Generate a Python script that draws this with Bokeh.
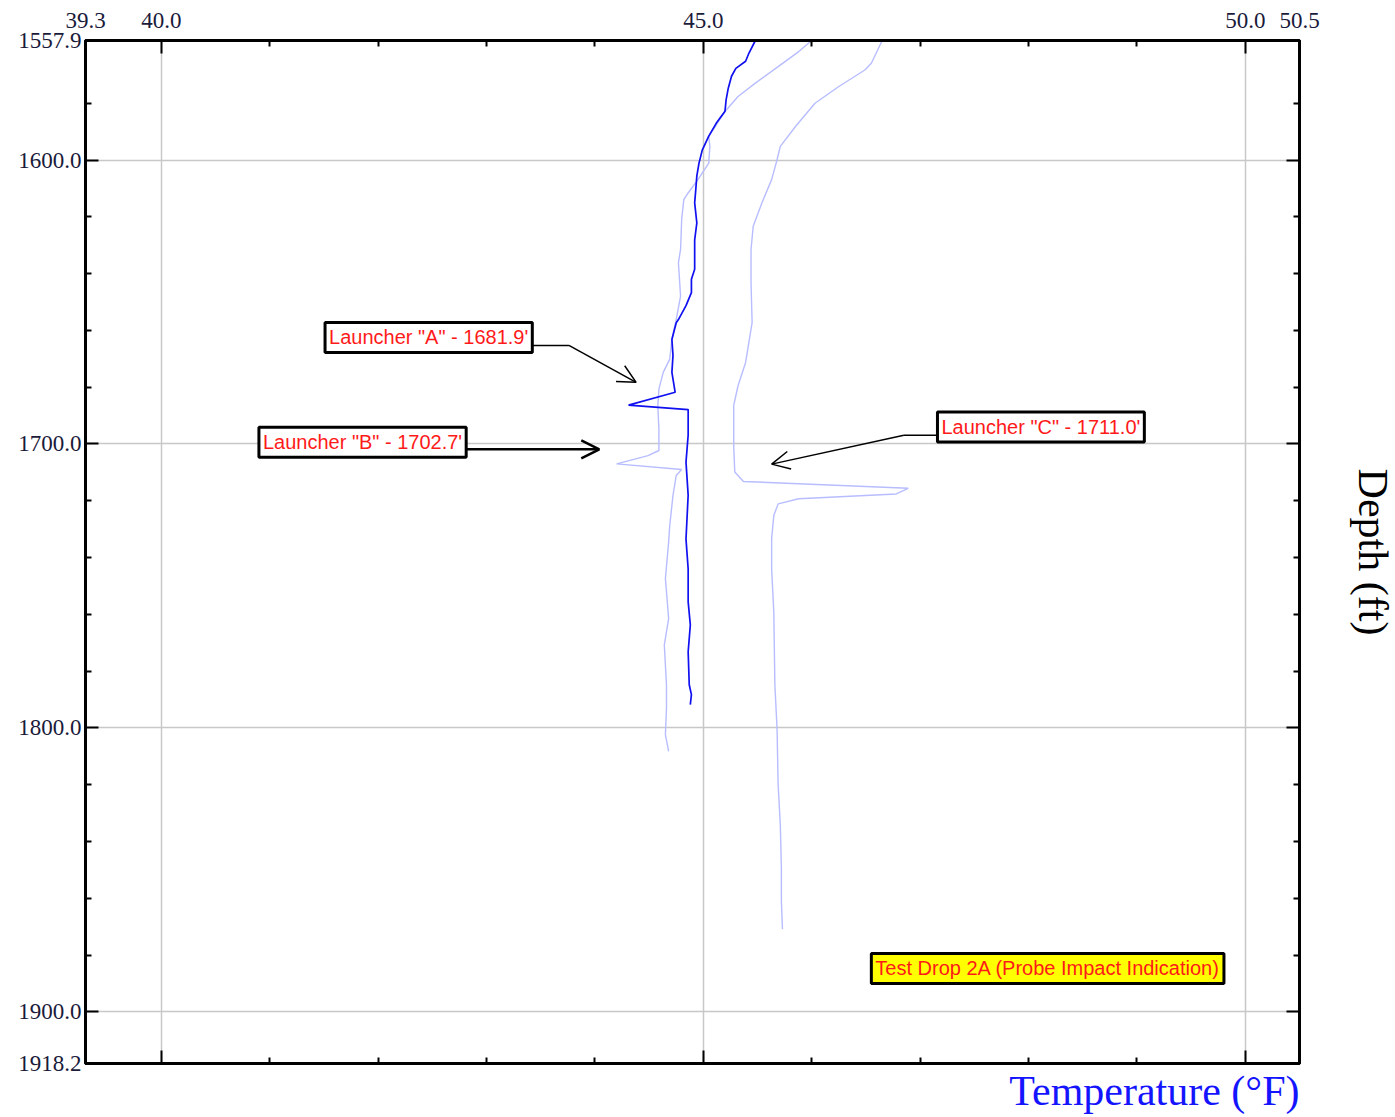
from bokeh.plotting import figure
from bokeh.models import (Range1d, LinearAxis, FixedTicker, PrintfTickFormatter,
                          CustomJSTickFormatter, Label, Arrow, OpenHead, Title)
from bokeh.embed import file_html
from bokeh.resources import INLINE

# ---------------- data ----------------
# Launcher "A" profile (dark blue)
temp_a = [45.48, 45.42, 45.39, 45.30, 45.26, 45.23, 45.21, 45.20, 45.12, 45.05,
          44.99, 44.96, 44.94, 44.93, 44.92, 44.94, 44.92, 44.92, 44.89, 44.89,
          44.84, 44.77, 44.75, 44.71, 44.72, 44.71, 44.74, 44.31, 44.86, 44.86,
          44.84, 44.86, 44.84, 44.86, 44.86, 44.88, 44.86, 44.87, 44.89, 44.88]
depth_a = [1557.9, 1562.4, 1565.2, 1567.7, 1570.5, 1574.7, 1578.8, 1582.8, 1587.0, 1591.6,
           1596.5, 1601.1, 1605.6, 1610.5, 1615.1, 1622.1, 1628.1, 1638.5, 1642.0, 1646.7,
           1651.3, 1656.2, 1657.3, 1663.2, 1668.8, 1674.8, 1681.8, 1686.3, 1687.9, 1696.9,
           1706.4, 1718.0, 1733.5, 1744.0, 1755.6, 1763.7, 1773.2, 1784.8, 1788.3, 1791.8]

# Launcher "B" profile (light blue)
temp_b = [46.00, 45.88, 45.69, 45.48, 45.32, 45.20, 45.11, 45.05, 45.06, 45.05,
          44.95, 44.86, 44.82, 44.80, 44.79, 44.77, 44.79, 44.75, 44.71, 44.69,
          44.63, 44.59, 44.58, 44.59, 44.59, 44.49, 44.20, 44.80, 44.75, 44.72,
          44.69, 44.68, 44.65, 44.68, 44.64, 44.66, 44.66, 44.65, 44.68]
depth_b = [1557.9, 1561.8, 1567.1, 1572.9, 1577.6, 1582.9, 1588.2, 1591.7, 1595.2, 1601.1,
           1606.9, 1611.6, 1613.9, 1621.0, 1631.5, 1636.2, 1647.9, 1656.1, 1663.1, 1670.1,
           1674.8, 1680.7, 1686.5, 1694.7, 1702.3, 1704.1, 1707.0, 1709.0, 1711.1, 1718.1,
           1728.7, 1734.5, 1747.4, 1761.5, 1770.8, 1784.9, 1793.1, 1802.4, 1808.3]

# Launcher "C" profile (light blue)
temp_c = [46.65, 46.55, 46.49, 46.25, 46.03, 45.85, 45.71, 45.68, 45.63, 45.54,
          45.46, 45.44, 45.44, 45.45, 45.39, 45.32, 45.28, 45.28, 45.29, 45.37,
          46.89, 46.78, 45.88, 45.69, 45.65, 45.63, 45.63, 45.65, 45.66, 45.68,
          45.69, 45.71, 45.72, 45.72, 45.73]
depth_c = [1557.9, 1565.9, 1568.3, 1574.1, 1580.0, 1588.2, 1595.2, 1599.9, 1606.9, 1615.1,
           1623.3, 1631.5, 1643.2, 1657.3, 1671.3, 1679.5, 1686.5, 1700.6, 1709.9, 1713.2,
           1715.6, 1717.6, 1719.3, 1721.1, 1725.2, 1733.4, 1743.9, 1759.1, 1784.9, 1800.1,
           1820.0, 1834.0, 1849.3, 1861.0, 1870.9]

x_major_ticks = [39.3, 40.0, 45.0, 50.0, 50.5]
x_minor_ticks = [41, 42, 43, 44, 46, 47, 48, 49]
y_major_ticks = [1557.9, 1600.0, 1700.0, 1800.0, 1900.0, 1918.2]
y_minor_ticks = [1580, 1620, 1640, 1660, 1680, 1720, 1740, 1760, 1780,
                 1820, 1840, 1860, 1880]
x_grid = [40, 45, 50]
y_grid = [1600, 1700, 1800, 1900]

label_a = "Launcher \"A\" - 1681.9'"
label_b = "Launcher \"B\" - 1702.7'"
label_c = "Launcher \"C\" - 1711.0'"
label_d = "Test Drop 2A (Probe Impact Indication)"

# ---------------- figure ----------------
p = figure(x_range=Range1d(39.3, 50.5), y_range=Range1d(1918.2, 1557.9),
           frame_width=1214, frame_height=1023,
           x_axis_location="above", y_axis_location="left",
           output_backend="svg", toolbar_location=None,
           min_border_left=85, min_border_top=40, min_border_right=96, min_border_bottom=52,
           background_fill_color="white", border_fill_color="white")

p.outline_line_color = "black"
p.outline_line_width = 3

p.line(temp_b, depth_b, line_color="#b8bdff", line_width=1.4)
p.line(temp_c, depth_c, line_color="#b8bdff", line_width=1.4)
p.line(temp_a, depth_a, line_color="#1010f0", line_width=1.7)

# grid
p.xgrid.ticker = FixedTicker(ticks=x_grid)
p.ygrid.ticker = FixedTicker(ticks=y_grid)
p.grid.grid_line_color = "#c8c8c8"
p.grid.grid_line_width = 1.5


def style_axis(ax, major, minor, show):
    ax.ticker = FixedTicker(ticks=major, minor_ticks=minor)
    ax.axis_line_color = "black"
    ax.axis_line_width = 3
    ax.major_tick_in = 13
    ax.major_tick_out = 0
    ax.minor_tick_in = 6
    ax.minor_tick_out = 0
    ax.major_tick_line_width = 2
    ax.minor_tick_line_width = 2
    ax.major_tick_line_color = "black"
    ax.minor_tick_line_color = "black"
    if show:
        ax.formatter = PrintfTickFormatter(format="%.1f")
        ax.major_label_text_font = "Liberation Serif"
        ax.major_label_text_font_size = "23px"
        ax.major_label_text_color = "#1a1a3a"
    else:
        ax.formatter = CustomJSTickFormatter(code="return ''")
        ax.major_label_text_font_size = "1px"
        ax.major_label_standoff = 0


top_ax = p.xaxis[0]
left_ax = p.yaxis[0]
style_axis(top_ax, x_major_ticks, x_minor_ticks, True)
top_ax.major_label_standoff = 13
style_axis(left_ax, y_major_ticks, y_minor_ticks, True)
left_ax.major_label_standoff = 4

bottom_ax = LinearAxis()
style_axis(bottom_ax, x_major_ticks, x_minor_ticks, False)
p.add_layout(bottom_ax, "below")

right_ax = LinearAxis()
style_axis(right_ax, y_major_ticks, y_minor_ticks, False)
right_ax.axis_label = "Depth (ft)"
right_ax.axis_label_text_font = "Liberation Serif"
right_ax.axis_label_text_font_size = "42px"
right_ax.axis_label_text_font_style = "normal"
right_ax.axis_label_text_color = "black"
right_ax.axis_label_standoff = 50
p.add_layout(right_ax, "right")

p.add_layout(Title(text="Temperature (°F)", align="right", text_font="Liberation Serif",
                   text_font_size="42px", text_font_style="normal",
                   text_color="#1414ff", standoff=4), "below")

# ---------------- annotations ----------------
def box(x, y, text, fill):
    p.add_layout(Label(x=x, y=y, text=text, text_font="Liberation Sans",
                       text_font_size="20px", text_color="#ff1a1a",
                       text_align="left", text_baseline="middle",
                       background_fill_color=fill, border_line_color="black",
                       border_line_width=3, padding=4))


def leader(x0, y0, x1, y1, width=1.5, head=True):
    p.add_layout(Arrow(x_start=x0, y_start=y0, x_end=x1, y_end=y1,
                       line_color="black", line_width=width,
                       end=OpenHead(size=18, line_width=width, line_color="black") if head else None))


leader(43.30, 1665.3, 43.76, 1665.3, head=False)
leader(43.76, 1665.3, 44.38, 1678.3)
leader(42.70, 1701.9, 44.04, 1701.9, width=2.5)
leader(47.30, 1696.9, 46.85, 1696.9, head=False)
leader(46.85, 1696.9, 45.63, 1707.1)

box(41.51, 1662.5, label_a, "white")
box(40.90, 1699.4, label_b, "white")
box(47.16, 1694.0, label_c, "white")
box(46.55, 1884.7, label_d, "yellow")

open("out.html", "w").write(file_html(p, INLINE))
